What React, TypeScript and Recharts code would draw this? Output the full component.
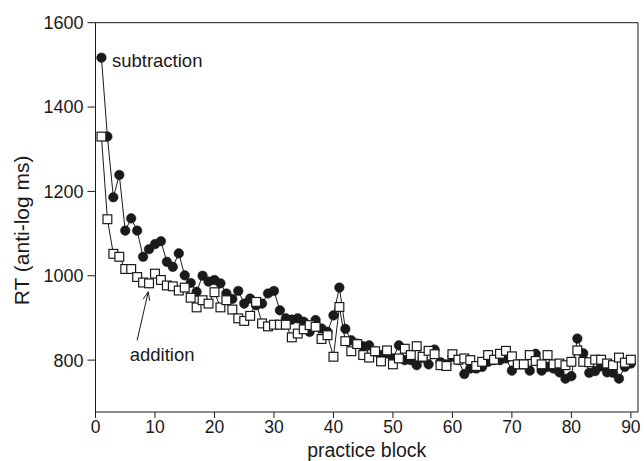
import React from 'react';
import { LineChart, Line, XAxis, YAxis, ReferenceLine, ReferenceDot } from 'recharts';

const blocks = [
  1, 2, 3, 4, 5, 6, 7, 8, 9, 10, 11, 12, 13, 14, 15, 16, 17, 18, 19, 20,
  21, 22, 23, 24, 25, 26, 27, 28, 29, 30, 31, 32, 33, 34, 35, 36, 37, 38, 39, 40,
  41, 42, 43, 44, 45, 46, 47, 48, 49, 50, 51, 52, 53, 54, 55, 56, 57, 58, 59, 60,
  61, 62, 63, 64, 65, 66, 67, 68, 69, 70, 71, 72, 73, 74, 75, 76, 77, 78, 79, 80,
  81, 82, 83, 84, 85, 86, 87, 88, 89, 90,
];

const subtraction = [
  1517, 1330, 1186, 1239, 1107, 1136, 1107, 1045, 1063, 1075,
  1082, 1033, 1021, 1053, 1001, 983, 962, 1000, 986, 990,
  982, 958, 945, 964, 934, 946, 930, 934, 958, 964,
  918, 899, 896, 899, 891, 867, 895, 875, 867, 906,
  972, 874, 847, 839, 833, 835, 820, 812, 816, 804,
  835, 800, 800, 788, 805, 790, 825, 795, 790, 808,
  800, 767, 780, 780, 784, 796, 800, 800, 804, 775,
  790, 790, 775, 815, 775, 784, 780, 771, 756, 762,
  851, 816, 770, 774, 785, 771, 770, 756, 784, 792,
];

const addition = [
  1330, 1134, 1052, 1045, 1016, 1016, 997, 984, 982, 1005,
  990, 977, 975, 965, 972, 948, 925, 942, 934, 961,
  925, 942, 920, 899, 893, 905, 938, 887, 880, 884,
  884, 884, 854, 863, 873, 883, 879, 850, 859, 808,
  926, 845, 821, 838, 812, 806, 821, 797, 823, 790,
  804, 827, 812, 833, 808, 822, 814, 788, 786, 814,
  801, 804, 800, 786, 796, 812, 801, 815, 822, 809,
  790, 790, 812, 798, 790, 812, 790, 792, 788, 796,
  823, 796, 795, 801, 801, 792, 788, 806, 794, 801,
];

const xTicks = [0, 10, 20, 30, 40, 50, 60, 70, 80, 90];
const yTicks = [800, 1000, 1200, 1400, 1600];

const data = blocks.map((b, i) => ({ block: b, subtraction: subtraction[i], addition: addition[i] }));

const FONT = '"Liberation Sans", Arial, Helvetica, sans-serif';
const INK = '#1a1a1a';

const CircleDot = (props: any) => {
  const { cx, cy, index } = props;
  if (cx == null || cy == null) return <g key={`c${index}`} />;
  return <circle key={`c${index}`} cx={cx} cy={cy} r={4.8} fill={INK} stroke={INK} strokeWidth={0.5} />;
};

const SquareDot = (props: any) => {
  const { cx, cy, index } = props;
  if (cx == null || cy == null) return <g key={`s${index}`} />;
  return (
    <rect key={`s${index}`} x={cx - 4.4} y={cy - 4.4} width={8.8} height={8.8} fill="#fff" stroke={INK} strokeWidth={1.2} />
  );
};

const ArrowShape = (props: any) => {
  const { x1, y1, x2, y2 } = props;
  if ([x1, y1, x2, y2].some((v) => v == null || isNaN(v))) return <g />;
  const ang = Math.atan2(y2 - y1, x2 - x1);
  const len = 9;
  const spread = 0.38;
  const ax = x2 - len * Math.cos(ang - spread);
  const ay = y2 - len * Math.sin(ang - spread);
  const bx = x2 - len * Math.cos(ang + spread);
  const by = y2 - len * Math.sin(ang + spread);
  return (
    <g>
      <line x1={x1} y1={y1} x2={x2} y2={y2} stroke={INK} strokeWidth={1} />
      <polyline points={`${ax},${ay} ${x2},${y2} ${bx},${by}`} fill="none" stroke={INK} strokeWidth={1} />
    </g>
  );
};

export default function App() {
  return (
    <div style={{ position: 'fixed', left: 0, top: 0, width: 644, height: 461, background: '#fff' }}>
      <LineChart
        width={644}
        height={461}
        data={data}
        margin={{ top: 22.7, right: 6, left: 0, bottom: 0 }}
        style={{ fontFamily: FONT }}
      >
        <XAxis
          dataKey="block"
          type="number"
          domain={[0, 91.2]}
          ticks={xTicks}
          allowDataOverflow
          height={49}
          tickSize={6}
          tickMargin={3}
          axisLine={{ stroke: INK, strokeWidth: 1 }}
          tickLine={{ stroke: INK, strokeWidth: 1 }}
          tick={{ fontSize: 17.5, fill: INK, fontFamily: FONT }}
          label={{
            content: (p: any) => {
              const vb = p.viewBox || {};
              const cx = vb.x + vb.width / 2;
              return (
                <text x={cx} y={456.5} textAnchor="middle" fontSize={19.5} fill={INK} fontFamily={FONT}>
                  practice block
                </text>
              );
            },
          }}
        />
        <YAxis
          type="number"
          domain={[677, 1600]}
          ticks={yTicks}
          allowDataOverflow
          width={95.5}
          tickSize={8}
          tickMargin={4}
          axisLine={{ stroke: INK, strokeWidth: 1 }}
          tickLine={{ stroke: INK, strokeWidth: 1 }}
          tick={{ fontSize: 18, fill: INK, fontFamily: FONT }}
          label={{
            content: (p: any) => {
              const vb = p.viewBox || {};
              const cx = 22;
              const cy = vb.y + vb.height / 2 + 13;
              return (
                <text
                  x={cx}
                  y={cy}
                  transform={`rotate(-90 ${cx} ${cy})`}
                  textAnchor="middle"
                  dominantBaseline="central"
                  fontSize={21}
                  fill={INK}
                  fontFamily={FONT}
                >
                  RT (anti-log ms)
                </text>
              );
            },
          }}
        />
        <ReferenceLine y={1600} stroke={INK} strokeWidth={1} />
        <ReferenceLine x={91.2} stroke={INK} strokeWidth={1} />
        <Line
          dataKey="subtraction"
          stroke={INK}
          strokeWidth={1}
          dot={CircleDot}
          activeDot={false}
          isAnimationActive={false}
        />
        <Line
          dataKey="addition"
          stroke={INK}
          strokeWidth={1}
          dot={SquareDot}
          activeDot={false}
          isAnimationActive={false}
        />
        <ReferenceLine
          segment={[
            { x: 7.0, y: 847 },
            { x: 8.87, y: 962 },
          ]}
          shape={ArrowShape}
        />
        <ReferenceDot
          x={1}
          y={1517}
          r={0}
          fill="none"
          stroke="none"
          label={{ value: 'subtraction', position: 'right', offset: 10.5, dy: 3, fontSize: 18.5, fill: INK, fontFamily: FONT }}
        />
        <ReferenceDot
          x={11.2}
          y={814}
          r={0}
          fill="none"
          stroke="none"
          label={{ value: 'addition', position: 'center', fontSize: 18.5, fill: INK, fontFamily: FONT }}
        />
      </LineChart>
    </div>
  );
}
